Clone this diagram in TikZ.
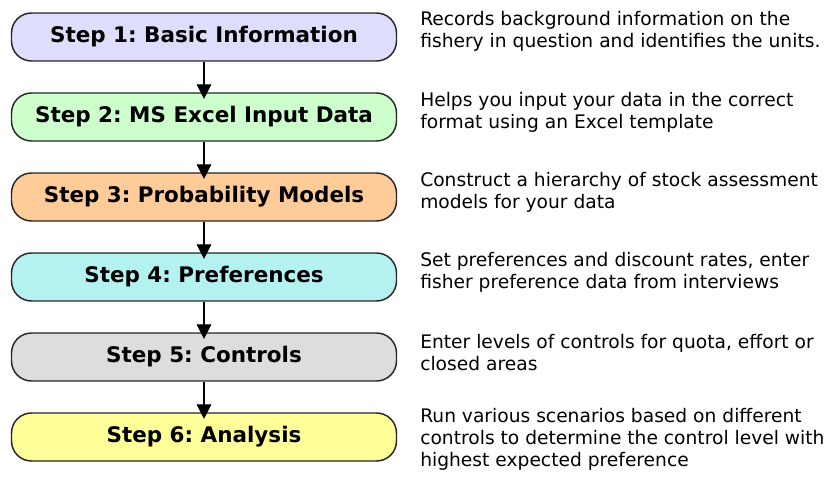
\documentclass[tikz,border=0pt]{standalone}
\usepackage{fontspec}
\setmainfont{DejaVu Sans}
\usetikzlibrary{positioning,arrows.meta}
\frenchspacing

\begin{document}
\begin{tikzpicture}[
  x=0.75pt, y=-0.75pt,
  stp/.style={rectangle, rounded corners=15pt, draw=black!85, line width=1.1pt,
              minimum width=288.75pt, minimum height=36pt, inner sep=0pt,
              font=\fontsize{16.1}{18}\selectfont\bfseries},
  basic/.style={stp, fill={rgb,255:red,222;green,222;blue,252}},
  excel/.style={stp, fill={rgb,255:red,204;green,255;blue,204}},
  prob/.style={stp, fill={rgb,255:red,255;green,204;blue,153}},
  pref/.style={stp, fill={rgb,255:red,180;green,242;blue,242}},
  ctrl/.style={stp, fill={rgb,255:red,221;green,221;blue,221}},
  anl/.style={stp, fill={rgb,255:red,255;green,255;blue,153}},
  dsc/.style={anchor=west, align=left, inner sep=0pt,
              font=\fontsize{14}{16.5}\selectfont},
  flw/.style={-{Triangle[length=11pt,width=11pt]}, line width=1.1pt, shorten >=-5pt}
]
\useasboundingbox (0,0) rectangle (826,481);

\node[basic] (s1) at (204, 37) {Step 1: Basic Information};
\node[excel] (s2) at (204,117) {Step 2: MS Excel Input Data};
\node[prob]  (s3) at (204,197) {Step 3: Probability Models};
\node[pref]  (s4) at (204,277) {Step 4: Preferences};
\node[ctrl]  (s5) at (204,357) {Step 5: Controls};
\node[anl]   (s6) at (204,437) {Step 6: Analysis};

\node[dsc] (d1) at (420, 31) {Records background information on the\\fishery in question and identifies the units.};
\node[dsc] (d2) at (420,112) {Helps you input your data in the correct\\format using an Excel template};
\node[dsc] (d3) at (420,192) {Construct a hierarchy of stock assessment\\models for your data};
\node[dsc] (d4) at (420,272) {Set preferences and discount rates, enter\\fisher preference data from interviews};
\node[dsc] (d5) at (420,353) {Enter levels of controls for quota, effort or\\closed areas};
\node[dsc] (d6) at (420,439) {Run various scenarios based on different\\controls to determine the control level with\\highest expected preference};

\draw[flw] (s1.south) -- (s2.north);
\draw[flw] (s2.south) -- (s3.north);
\draw[flw] (s3.south) -- (s4.north);
\draw[flw] (s4.south) -- (s5.north);
\draw[flw] (s5.south) -- (s6.north);
\end{tikzpicture}
\end{document}
